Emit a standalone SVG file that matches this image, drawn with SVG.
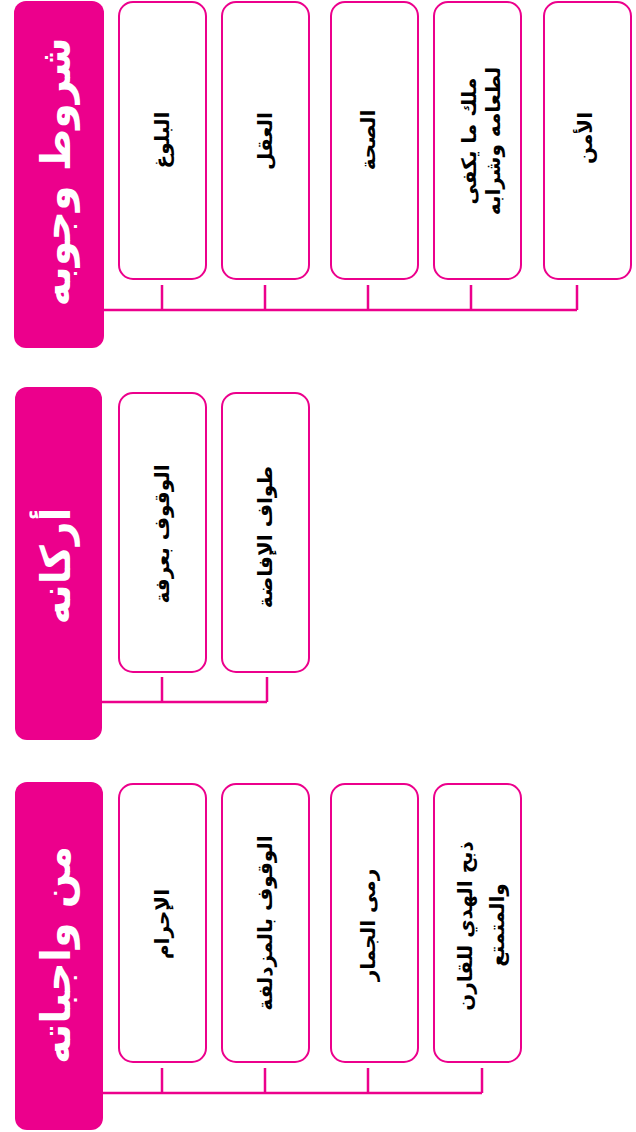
<svg xmlns="http://www.w3.org/2000/svg" width="636" height="1132" viewBox="0 0 636 1132">
<style>
.hdr{fill:#EC008C;}
.box{fill:#FFFFFF;stroke:#EC008C;stroke-width:2;}
.con{stroke:#EC008C;stroke-width:2.5;fill:none;}
.ht{fill:#FFFFFF;font-family:"DejaVu Sans",sans-serif;font-weight:bold;font-size:41px;text-anchor:middle;dominant-baseline:central;direction:rtl;}
.bt{fill:#000000;font-family:"DejaVu Sans",sans-serif;font-weight:bold;font-size:20px;text-anchor:middle;dominant-baseline:central;direction:rtl;}
</style>
<rect width="636" height="1132" fill="#FFFFFF"/>
<g id="connectors">
<path class="con" d="M104 310H577M162 285V310M265 285V310M368 285V310M471 285V310M577 285V310"/>
<path class="con" d="M102 702H267M162 677V702M267 677V702"/>
<path class="con" d="M103 1093H482M162 1068V1093M265 1068V1093M368 1068V1093M482 1068V1093"/>
</g>
<g id="sec1-header"><rect class="hdr" x="14" y="1" width="90" height="347" rx="12"/><text class="ht" transform="translate(56,172) rotate(-90)">شروط وجوبه</text></g>
<g id="sec1-n1"><rect class="box" x="119" y="2" width="87" height="277" rx="14"/><text class="bt" transform="translate(162,140) rotate(-90)">البلوغ</text></g>
<g id="sec1-n2"><rect class="box" x="222" y="2" width="87" height="277" rx="14"/><text class="bt" transform="translate(265,141) rotate(-90)">العقل</text></g>
<g id="sec1-n3"><rect class="box" x="331" y="2" width="87" height="277" rx="14"/><text class="bt" transform="translate(368,140) rotate(-90)">الصحة</text></g>
<g id="sec1-n4"><rect class="box" x="434" y="2" width="87" height="277" rx="14"/><text class="bt" transform="translate(469,141) rotate(-90)">ملك ما يكفى</text><text class="bt" transform="translate(493,141) rotate(-90)">لطعامه وشرابه</text></g>
<g id="sec1-n5"><rect class="box" x="544" y="2" width="87" height="277" rx="14"/><text class="bt" transform="translate(585,138) rotate(-90)">الأمن</text></g>
<g id="sec2-header"><rect class="hdr" x="15" y="387" width="87" height="353" rx="12"/><text class="ht" transform="translate(56,566) rotate(-90)">أركانه</text></g>
<g id="sec2-n1"><rect class="box" x="119" y="393" width="87" height="279" rx="14"/><text class="bt" transform="translate(162,534) rotate(-90)">الوقوف بعرفة</text></g>
<g id="sec2-n2"><rect class="box" x="222" y="393" width="87" height="279" rx="14"/><text class="bt" transform="translate(265,537) rotate(-90)">طواف الإفاضة</text></g>
<g id="sec3-header"><rect class="hdr" x="15" y="782" width="88" height="348" rx="12"/><text class="ht" transform="translate(56,955) rotate(-90)">من واجباته</text></g>
<g id="sec3-n1"><rect class="box" x="119" y="784" width="87" height="278" rx="14"/><text class="bt" transform="translate(162,924) rotate(-90)">الإحرام</text></g>
<g id="sec3-n2"><rect class="box" x="222" y="784" width="87" height="278" rx="14"/><text class="bt" transform="translate(265,923) rotate(-90)">الوقوف بالمزدلفة</text></g>
<g id="sec3-n3"><rect class="box" x="331" y="784" width="87" height="278" rx="14"/><text class="bt" transform="translate(368,925) rotate(-90)">رمى الجمار</text></g>
<g id="sec3-n4"><rect class="box" x="434" y="784" width="87" height="278" rx="14"/><text class="bt" transform="translate(465,926) rotate(-90)">ذبح الهدي للقارن</text><text class="bt" transform="translate(497,925) rotate(-90)">والمتمتع</text></g>
</svg>
